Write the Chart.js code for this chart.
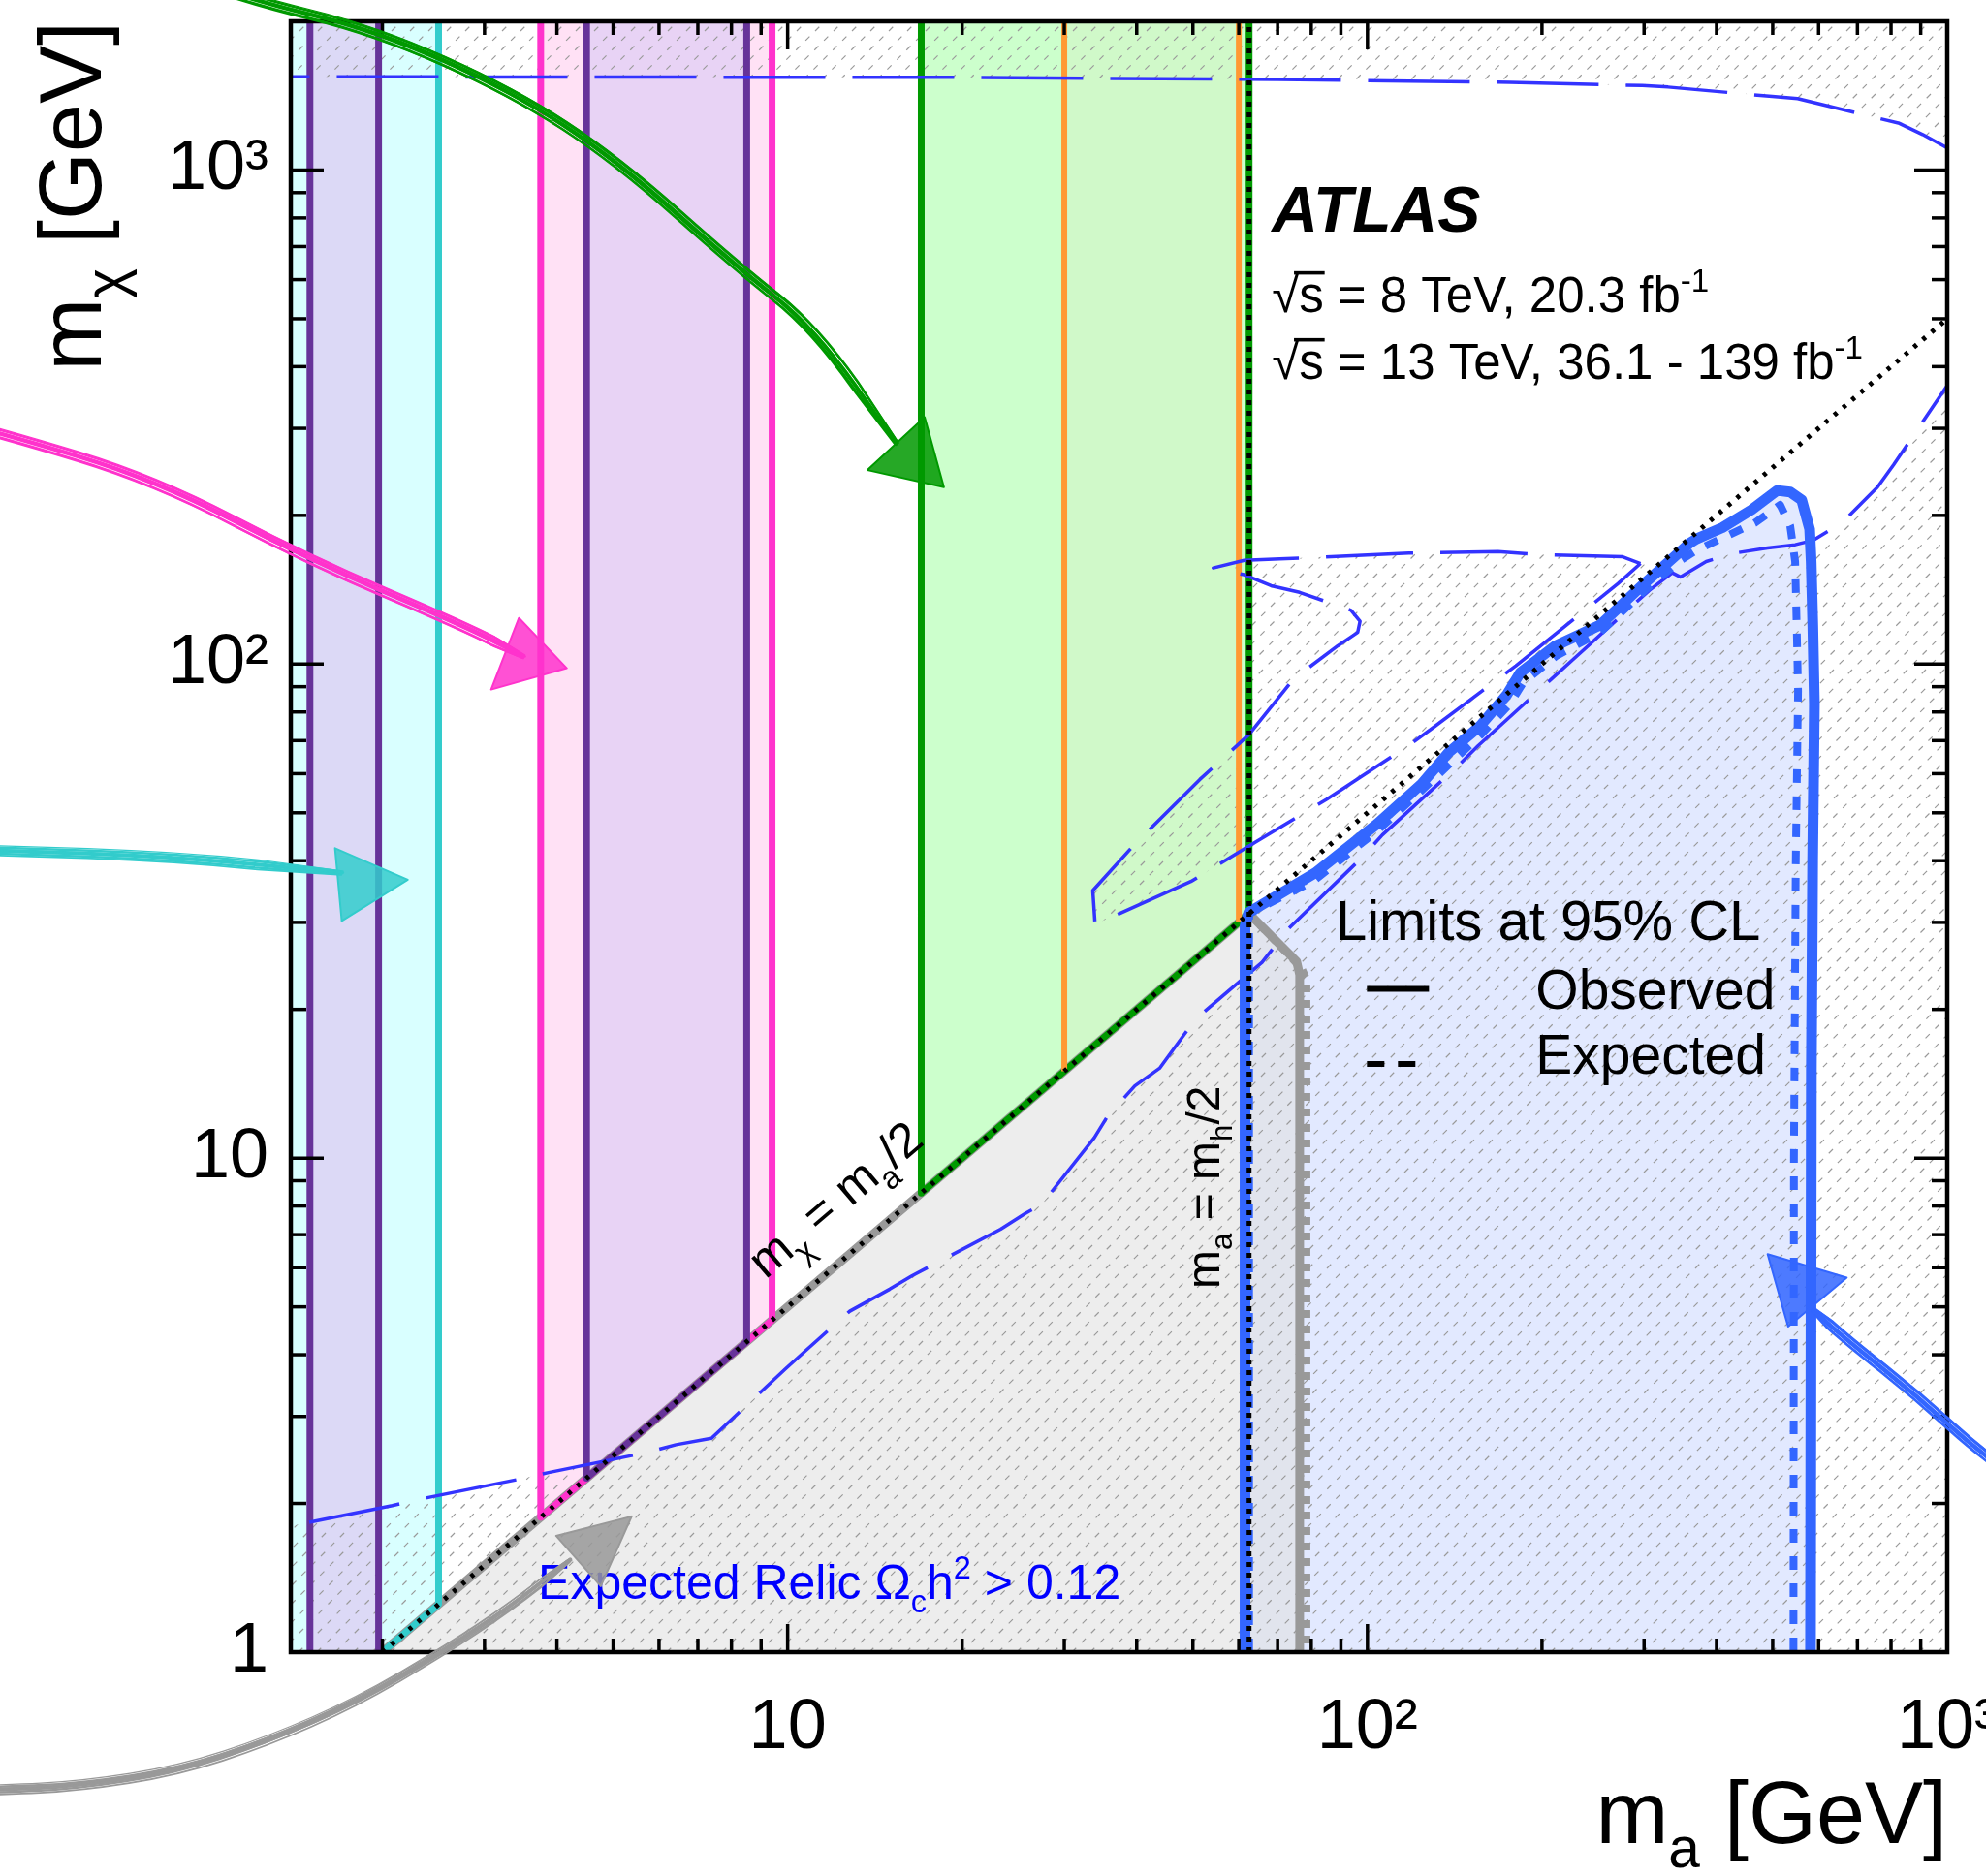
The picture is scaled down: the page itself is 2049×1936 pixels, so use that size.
<!DOCTYPE html>
<html>
<head>
<meta charset="utf-8">
<script src="https://cdn.jsdelivr.net/npm/chart.js@4.4.1/dist/chart.umd.min.js"></script>
<style>
html, body { margin: 0; padding: 0; background: #fff; }
#c { display: block; }
</style>
</head>
<body>
<canvas id="c" width="2049" height="1936"></canvas>
<script>
// axis ranges and labelled ticks
var xMin = 1.39, xMax = 1000, yMin = 1, yMax = 2000;
var xTickValues = [10, 100, 1000];
var xTickLabels = ['10', '10²', '10³'];
var yTickValues = [1, 10, 100, 1000];
var yTickLabels = ['1', '10', '10²', '10³'];

// excluded m_a ranges (vertical bands, bounded below by m_chi = m_a/2)
var cyanBand = [1.0, 2.5];
var purpleBandLow = [1.5, 1.97];
var pinkBand = [3.75, 9.4];
var purpleBandHigh = [4.5, 8.5];
var greenBand = [17, 62.5];
var orangeBand = [30, 60];
var higgsHalf = 62.5;

// observed 95% CL limit (blue, solid)
var obsMa   = [61.5, 61.5, 62.4, 81.3, 104, 124, 138, 156.5, 174, 183.5, 211, 252, 301, 359, 369.5, 409.5, 459.6, 509, 536, 561, 579, 582.5, 586.4, 590, 586, 583, 581];
var obsMchi = [1, 29.5, 31.4, 37.8, 47.5, 57.2, 66.2, 75, 86.7, 96.1, 108.9, 120, 146, 175.5, 179.2, 188.9, 205.2, 224.6, 223, 214.8, 187.5, 161.3, 119.3, 83.1, 40, 15, 1];

// expected 95% CL limit (blue, dashed)
var expMa   = [62.5, 62.5, 81, 104, 124, 140, 157, 176, 186, 212, 252, 301, 346.5, 369.5, 409.5, 465.5, 515, 536, 546.6, 550, 553, 548, 544, 543];
var expMchi = [1, 31.25, 36.5, 46, 55.5, 63.5, 72, 83, 92, 104, 116, 141, 162, 170, 180, 193, 210, 190.4, 161.3, 119.3, 88.3, 40, 10, 1];

// grey limit (observed solid, expected dashed)
var grayObsMa   = [2, 62.5, 75.5, 76.4, 76.4];
var grayObsMchi = [1, 31.25, 25, 23.5, 1];
var grayExpMa   = [62.5, 77, 78.5, 78.5];
var grayExpMchi = [31.25, 24.2, 23, 1];

// expected relic density contour Omega h^2 = 0.12 (thin long dashes)
var relicTopMa   = [1.0, 20, 70, 176, 298, 330, 499, 552, 827, 907, 985, 1100];
var relicTopMchi = [1545, 1540, 1525, 1505, 1482, 1472, 1409, 1395, 1243, 1180, 1119, 1040];
var relicLowMa   = [1112, 992, 808, 758, 658, 586.5, 546.6, 489.8, 425.6, 383.9, 346.5, 335.5, 306.5, 226.6, 207.6, 155.1, 143.3, 106.1, 97.9, 73.2, 65.8, 50.5, 43.8, 39.7, 35.7, 33.8, 27.4, 25.7, 23.3, 16.4, 15.0, 12.8, 10.7, 9.9, 7.39, 6.42, 5.75, 3.87, 3.45, 2.32, 2.08, 1.39, 1.0];
var relicLowMchi = [441, 361, 253, 228, 193, 178, 174.4, 171.8, 167.4, 161.3, 150.1, 153, 141.1, 102.3, 93.2, 68.3, 62.2, 45.1, 40.6, 29.2, 24.9, 19.1, 15.2, 14.0, 12.2, 11.0, 8.05, 7.73, 7.18, 5.78, 5.43, 4.90, 4.06, 3.74, 2.71, 2.63, 2.54, 2.31, 2.24, 2.04, 1.98, 1.80, 1.66];
var relicLoopMa   = [295.8, 275.5, 197, 168, 117.9, 70.6, 61.3, 54.2, 61.3, 68.2, 76.4, 93.7, 97.1, 96.2, 88.9, 74.5, 62.4, 51.4, 42.3, 39.4, 33.6, 33.9, 36.1, 49.6, 62.4, 85.0, 119, 131.1, 180.3, 197, 270.7, 295.8];
var relicLoopMchi = [159.8, 164.9, 166.6, 169, 167.7, 163.2, 162.2, 156.5, 151.7, 144.1, 139.7, 128.5, 122.1, 115.9, 108.9, 93.2, 71.9, 58.4, 46.5, 42.8, 34.8, 29.8, 30.7, 36.3, 42.8, 53.2, 69.0, 75.0, 99.2, 107.8, 145.6, 159.8];

// hand drawn arrows (shaft and head, in m_a / m_chi)
var arrows = [
  { color: '#009900', ma: [0.945, 1.167, 1.94, 3.365, 5.08, 8.22, 11.1, 15.4], mchi: [2427, 2217, 1918, 1437, 1047, 634, 481, 280],
    headMa: [13.73, 18.6, 17.23], headMchi: [247, 228, 316] },
  { color: '#ff33cc', ma: [0.3, 0.437, 0.81, 1.499, 2.776, 3.5], mchi: [330, 294, 236, 162, 119, 103.6],
    headMa: [3.08, 4.16, 3.44], headMchi: [88.8, 98.1, 124] },
  { color: '#33cccc', ma: [0.3, 0.437, 0.874, 1.70], mchi: [42.5, 41.97, 40.8, 37.8],
    headMa: [1.657, 2.212, 1.702], headMchi: [42.4, 36.6, 30.2] },
  { color: '#999999', ma: [0.3, 0.437, 0.602, 0.888, 1.265, 1.796, 2.559, 3.339, 4.207], mchi: [0.52, 0.5265, 0.536, 0.576, 0.660, 0.791, 1.009, 1.242, 1.536],
    headMa: [3.987, 5.383, 4.761], headMchi: [1.72, 1.883, 1.36] },
  { color: '#3366ff', ma: [1423, 1168, 889, 671, 584], mchi: [2.11, 2.47, 3.30, 4.29, 4.96],
    headMa: [671, 490, 531.6], headMchi: [5.73, 6.39, 4.56] }
];

var FAM = '"Liberation Sans", Arial, sans-serif';
Chart.defaults.font.family = FAM;

function pts(xs, ys) { return xs.map(function (x, i) { return { x: x, y: ys[i] }; }); }
function bandShape(r) { return [{ x: r[0], y: 5000 }, { x: r[0], y: r[0] / 2 }, { x: r[1], y: r[1] / 2 }, { x: r[1], y: 5000 }]; }
function area(data, color, order) {
  return { data: data, fill: 'shape', backgroundColor: color, borderColor: 'rgba(0,0,0,0)', borderWidth: 0, order: order, clip: 0 };
}
function curve(data, color, width, dash, order) {
  return { data: data, fill: false, borderColor: color, borderWidth: width, borderDash: dash || [], order: order, clip: 0 };
}
function vline(x, y0, color, width, dash, order) { return curve([{ x: x, y: y0 }, { x: x, y: 5000 }], color, width, dash, order); }

var datasets = [
  area(bandShape(cyanBand), '#d9ffff', 100),
  area(bandShape(purpleBandLow), '#dcd9f6', 99),
  area(bandShape(pinkBand), '#ffe1f5', 98),
  area(bandShape(purpleBandHigh), '#e8d3f5', 97),
  area(bandShape(greenBand), '#ccffcc', 96),
  area(bandShape(orangeBand), '#d0f9c9', 95),
  area(pts(obsMa, obsMchi), 'rgba(51,102,255,0.14)', 94),
  area(pts(grayObsMa, grayObsMchi), 'rgba(225,225,225,0.6)', 93),

  curve(pts(grayObsMa, grayObsMchi), '#999999', 9, [], 50),
  curve(pts(grayExpMa, grayExpMchi), '#999999', 8, [8, 8], 49),
  curve(bandShape(cyanBand), '#33cccc', 7, [], 48),
  curve(bandShape(purpleBandLow), '#663399', 7, [], 47),
  curve(bandShape(pinkBand), '#ff33cc', 7, [], 46),
  curve(bandShape(purpleBandHigh), '#663399', 7, [], 45),
  curve(bandShape(greenBand), '#009900', 7, [], 44),
  vline(orangeBand[0], orangeBand[0] / 2, '#ff9933', 6, [], 43),
  vline(orangeBand[1], orangeBand[1] / 2, '#ff9933', 6, [], 43),
  curve(pts(relicTopMa, relicTopMchi), '#3333ff', 3.5, [105, 28], 30),
  curve(pts(relicLowMa, relicLowMchi), '#3333ff', 3.5, [95, 28], 29),
  curve(pts(relicLoopMa, relicLoopMchi), '#3333ff', 3.5, [90, 28], 28),
  curve(pts(expMa, expMchi), '#3366ff', 8, [14, 14], 20),
  curve(pts(obsMa, obsMchi), '#3366ff', 11, [], 19),
  curve([{ x: 2, y: 1 }, { x: 4000, y: 2000 }], '#000000', 5, [4, 8], 10),
  vline(higgsHalf, 1, '#000000', 5, [5, 6], 9)
];

function rich(ctx, parts, x, y, size, opts) {
  opts = opts || {};
  ctx.save();
  ctx.translate(x, y);
  if (opts.angle) ctx.rotate(opts.angle);
  ctx.fillStyle = opts.color || '#000';
  ctx.strokeStyle = opts.color || '#000';
  ctx.textBaseline = 'alphabetic';
  ctx.textAlign = 'left';
  function font(p) {
    var s = (p.sub || p.sup) ? size * 0.65 : size;
    return (p.style || opts.style || '') + ' ' + s + 'px ' + FAM;
  }
  var total = 0;
  parts.forEach(function (p) { ctx.font = font(p); p.w = ctx.measureText(p.t).width; total += p.w; });
  var cx = opts.align === 'right' ? -total : 0;
  parts.forEach(function (p) {
    ctx.font = font(p);
    var dy = p.sub ? size * 0.28 : (p.sup ? -size * 0.42 : 0);
    ctx.fillText(p.t, cx, dy);
    if (p.over) {
      ctx.lineWidth = size * 0.07;
      ctx.beginPath();
      ctx.moveTo(cx - size * 0.1, -size * 0.8);
      ctx.lineTo(cx + p.w + size * 0.02, -size * 0.8);
      ctx.stroke();
    }
    cx += p.w;
  });
  ctx.restore();
}

function logTicks(min, max) {
  var out = [];
  for (var d = Math.floor(Math.log10(min)); d <= Math.ceil(Math.log10(max)); d++) {
    for (var m = 1; m <= 9; m++) {
      var v = m * Math.pow(10, d);
      if (v >= min - 1e-9 && v <= max + 1e-9) out.push({ v: v, major: m === 1 });
    }
  }
  return out;
}

function seg(ctx, x0, y0, x1, y1) { ctx.beginPath(); ctx.moveTo(x0, y0); ctx.lineTo(x1, y1); ctx.stroke(); }

// where the loop top edge and the lower contour cross m_a = m_h/2
var loopTopAtHiggs = 162.6;
var lowAtHiggs = 23.6;

var decor = {
  id: 'decor',
  beforeDatasetsDraw: function (chart) {
    // hatching: region where the expected relic density is too large
    var ctx = chart.ctx, a = chart.chartArea, X = chart.scales.x, Y = chart.scales.y;
    function addPoly(xs, ys) {
      xs.forEach(function (x, i) {
        var px = X.getPixelForValue(x), py = Y.getPixelForValue(ys[i]);
        if (i === 0) ctx.moveTo(px, py); else ctx.lineTo(px, py);
      });
      ctx.closePath();
    }
    function hatch() {
      ctx.strokeStyle = '#9a9a9a';
      ctx.lineWidth = 1.2;
      ctx.setLineDash([6, 8]);
      var w = a.right - a.left, h = a.bottom - a.top;
      for (var k = -h; k < w; k += 19) seg(ctx, a.left + k, a.bottom, a.left + k + h, a.top);
    }
    // unhatched region: between the top contour and the lower contour,
    // bounded by the loop's upper edge right of m_a = m_h/2
    var wx = [], wy = [];
    relicTopMa.forEach(function (x, i) { wx.push(x); wy.push(relicTopMchi[i]); });
    for (var i = 0; i < relicLowMa.length && relicLowMa[i] >= 335; i++) { wx.push(relicLowMa[i]); wy.push(relicLowMchi[i]); }
    for (i = 0; i < relicLoopMa.length && relicLoopMa[i] > higgsHalf; i++) { wx.push(relicLoopMa[i]); wy.push(relicLoopMchi[i]); }
    wx.push(higgsHalf); wy.push(loopTopAtHiggs);
    wx.push(higgsHalf); wy.push(lowAtHiggs);
    relicLowMa.forEach(function (x, j) { if (x < higgsHalf) { wx.push(x); wy.push(relicLowMchi[j]); } });

    ctx.save();
    ctx.beginPath();
    ctx.rect(a.left, a.top, a.right - a.left, a.bottom - a.top);
    ctx.clip();
    ctx.save();
    ctx.beginPath();
    ctx.rect(a.left, a.top, a.right - a.left, a.bottom - a.top);
    addPoly(wx, wy);
    ctx.clip('evenodd');
    hatch();
    ctx.restore();
    // inside of the closed loop (left of m_a = m_h/2)
    ctx.save();
    ctx.beginPath();
    ctx.rect(a.left, a.top, X.getPixelForValue(higgsHalf) - a.left, a.bottom - a.top);
    ctx.clip();
    ctx.beginPath();
    addPoly(relicLoopMa, relicLoopMchi);
    ctx.clip();
    hatch();
    ctx.restore();
    ctx.restore();
  },
  afterDatasetsDraw: function (chart) {
    var ctx = chart.ctx, a = chart.chartArea, X = chart.scales.x, Y = chart.scales.y;
    ctx.save();
    ctx.setLineDash([]);
    ctx.strokeStyle = '#000';
    ctx.lineCap = 'butt';
    ctx.lineWidth = 3.5;
    logTicks(xMin, xMax).forEach(function (t) {
      var p = X.getPixelForValue(t.v), L = t.major ? 29 : 14;
      seg(ctx, p, a.bottom, p, a.bottom - L);
      seg(ctx, p, a.top, p, a.top + L);
    });
    logTicks(yMin, yMax).forEach(function (t) {
      var p = Y.getPixelForValue(t.v), L = t.major ? 34 : 16;
      seg(ctx, a.left, p, a.left + L, p);
      seg(ctx, a.right, p, a.right - L, p);
    });
    ctx.lineWidth = 4.5;
    ctx.strokeRect(a.left, a.top, a.right - a.left, a.bottom - a.top);

    function P(ma, mchi) { return [X.getPixelForValue(ma), Y.getPixelForValue(mchi)]; }
    var p;
    // axis titles
    rich(ctx, [{ t: 'm' }, { t: 'a', sub: true }, { t: ' [GeV]' }], a.right, a.bottom + 197, 90, { align: 'right' });
    rich(ctx, [{ t: 'm' }, { t: 'χ', sub: true }, { t: ' [GeV]' }], a.left - 196, a.top, 90, { align: 'right', angle: -Math.PI / 2 });

    p = P(68.4, 750);
    rich(ctx, [{ t: 'ATLAS' }], p[0], p[1], 66, { style: 'italic bold' });
    p = P(68.4, 515);
    rich(ctx, [{ t: '√' }, { t: 's', over: true }, { t: ' = 8 TeV, 20.3 fb' }, { t: '-1', sup: true }], p[0], p[1], 51);
    p = P(68.4, 377);
    rich(ctx, [{ t: '√' }, { t: 's', over: true }, { t: ' = 13 TeV, 36.1 - 139 fb' }, { t: '-1', sup: true }], p[0], p[1], 51);

    p = P(88.1, 27.7);
    rich(ctx, [{ t: 'Limits at 95% CL' }], p[0], p[1], 58);
    p = P(195, 20.1);
    rich(ctx, [{ t: 'Observed' }], p[0], p[1], 57);
    p = P(195, 14.85);
    rich(ctx, [{ t: 'Expected' }], p[0], p[1], 57);
    ctx.lineWidth = 6;
    var l0 = P(99.8, 22.0), l1 = P(127.7, 22.0);
    seg(ctx, l0[0], l0[1], l1[0], l1[1]);
    var d0 = P(99.8, 15.5), d1 = P(127.7, 15.5);
    ctx.setLineDash([18, 14]);
    seg(ctx, d0[0], d0[1], d1[0], d1[1]);
    ctx.setLineDash([]);

    p = P(3.71, 1.28);
    rich(ctx, [{ t: 'Expected Relic Ω' }, { t: 'c', sub: true }, { t: 'h' }, { t: '2', sup: true }, { t: ' > 0.12' }], p[0], p[1], 50, { color: '#0000ff' });

    var ang = Math.atan2(Y.getPixelForValue(10) - Y.getPixelForValue(1), X.getPixelForValue(20) - X.getPixelForValue(2));
    p = P(9.16, 5.67);
    rich(ctx, [{ t: 'm' }, { t: 'χ', sub: true }, { t: ' = m' }, { t: 'a', sub: true }, { t: '/2' }], p[0], p[1], 50, { angle: ang });
    p = P(55.5, 5.44);
    rich(ctx, [{ t: 'm' }, { t: 'a', sub: true }, { t: ' = m' }, { t: 'h', sub: true }, { t: '/2' }], p[0], p[1], 48, { angle: -Math.PI / 2 });
    ctx.restore();
  },
  afterDraw: function (chart) {
    var ctx = chart.ctx, X = chart.scales.x, Y = chart.scales.y;
    ctx.save();
    ctx.lineCap = 'round';
    ctx.lineJoin = 'round';
    arrows.forEach(function (ar) {
      var xy = ar.ma.map(function (m, i) { return [X.getPixelForValue(m), Y.getPixelForValue(ar.mchi[i])]; });
      ctx.strokeStyle = ar.color;
      ctx.fillStyle = ar.color;
      [[0, 0, 4], [3, -3, 2.5], [-3, 3, 2.5], [0, 5, 1.8], [5, 0, 1.8], [-4, -1, 1.5], [1, -5, 1.2]].forEach(function (o) {
        ctx.lineWidth = o[2];
        ctx.beginPath();
        ctx.moveTo(xy[0][0] + o[0], xy[0][1] + o[1]);
        for (var i = 1; i < xy.length - 1; i++) {
          var mx = (xy[i][0] + xy[i + 1][0]) / 2, my = (xy[i][1] + xy[i + 1][1]) / 2;
          ctx.quadraticCurveTo(xy[i][0] + o[0], xy[i][1] + o[1], mx + o[0], my + o[1]);
        }
        var n = xy.length - 1;
        ctx.lineTo(xy[n][0] + o[0] * 0.4, xy[n][1] + o[1] * 0.4);
        ctx.stroke();
      });
      var hd = ar.headMa.map(function (m, i) { return [X.getPixelForValue(m), Y.getPixelForValue(ar.headMchi[i])]; });
      ctx.globalAlpha = 0.85;
      ctx.beginPath();
      ctx.moveTo(hd[0][0], hd[0][1]);
      ctx.lineTo(hd[1][0], hd[1][1]);
      ctx.lineTo(hd[2][0], hd[2][1]);
      ctx.closePath();
      ctx.fill();
      ctx.globalAlpha = 1;
      ctx.lineWidth = 2;
      ctx.stroke();
    });
    ctx.restore();
  }
};

new Chart(document.getElementById('c'), {
  type: 'line',
  data: { datasets: datasets },
  options: {
    responsive: false,
    animation: false,
    devicePixelRatio: 1,
    events: [],
    layout: { padding: { top: 22, right: 40, left: 0, bottom: 0 } },
    elements: {
      point: { radius: 0, hitRadius: 0, hoverRadius: 0 },
      line: { tension: 0, borderCapStyle: 'butt', borderJoinStyle: 'round' }
    },
    plugins: {
      legend: { display: false },
      tooltip: { enabled: false },
      filler: { drawTime: 'beforeDatasetsDraw' }
    },
    scales: {
      x: {
        type: 'logarithmic', min: xMin, max: xMax,
        grid: { display: false, drawTicks: false },
        border: { display: false },
        ticks: {
          color: '#000', font: { size: 72 }, padding: 36, maxRotation: 0, autoSkip: false,
          callback: function (v) { var i = xTickValues.indexOf(v); return i >= 0 ? xTickLabels[i] : ''; }
        },
        afterBuildTicks: function (s) { s.ticks = xTickValues.map(function (v) { return { value: v }; }); },
        afterFit: function (s) { s.height = 231; s.paddingLeft = 0; s.paddingRight = 0; }
      },
      y: {
        type: 'logarithmic', min: yMin, max: yMax,
        grid: { display: false, drawTicks: false },
        border: { display: false },
        ticks: {
          color: '#000', font: { size: 72 }, padding: 23, autoSkip: false,
          callback: function (v) { var i = yTickValues.indexOf(v); return i >= 0 ? yTickLabels[i] : ''; }
        },
        afterBuildTicks: function (s) { s.ticks = yTickValues.map(function (v) { return { value: v }; }); },
        afterFit: function (s) { s.width = 300; s.paddingTop = 0; s.paddingBottom = 0; }
      }
    }
  },
  plugins: [decor]
});
</script>
</body>
</html>
